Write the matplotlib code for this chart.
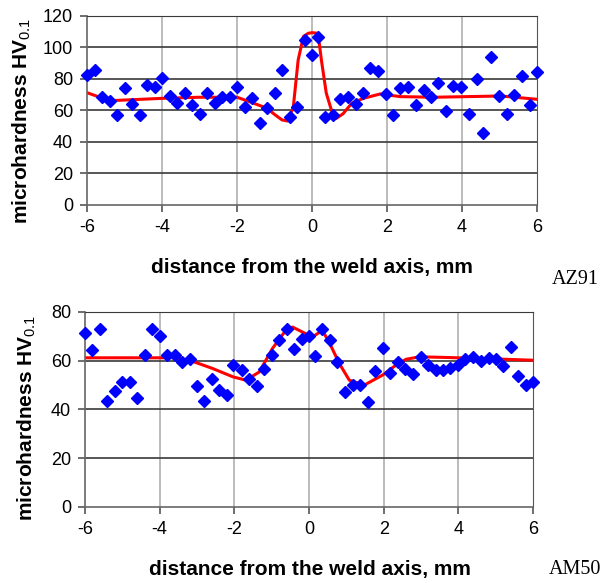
import matplotlib.pyplot as plt
import numpy as np

plt.rcParams['font.family'] = ['Liberation Sans', 'DejaVu Sans']
plt.rcParams['mathtext.fontset'] = 'custom'
plt.rcParams['mathtext.rm'] = 'Liberation Sans'
plt.rcParams['mathtext.default'] = 'rm'
plt.rcParams['axes.unicode_minus'] = False

# AZ91 measurements
az_x = [-6.0, -5.8, -5.6, -5.4, -5.2, -5.0, -4.8, -4.6, -4.4, -4.2, -4.0, -3.8, -3.6, -3.4,
        -3.2, -3.0, -2.8, -2.6, -2.4, -2.2, -2.0, -1.8, -1.6, -1.4, -1.2, -1.0, -0.8, -0.6,
        -0.4, -0.2, 0.0, 0.16, 0.34, 0.55, 0.74, 0.95, 1.16, 1.37, 1.55, 1.77, 1.98, 2.17,
        2.35, 2.56, 2.76, 2.98, 3.18, 3.36, 3.56, 3.77, 3.98, 4.19, 4.39, 4.57, 4.77, 4.99,
        5.19, 5.39, 5.59, 5.80, 6.0]
az_y = [82.5, 85.7, 68.4, 66.0, 57.1, 74.1, 64.1, 57.1, 76.2, 75.1, 80.4, 69.2, 65.0, 70.9,
        63.5, 57.8, 70.9, 65.0, 68.4, 68.4, 74.7, 62.0, 67.7, 51.9, 61.4, 70.9, 85.7, 55.7,
        62.0, 104.8, 95.2, 106.9, 55.7, 57.1, 67.1, 68.4, 64.1, 71.3, 86.8, 85.1, 70.3, 57.1,
        74.1, 75.1, 63.5, 73.0, 68.4, 77.2, 59.9, 75.6, 74.7, 57.8, 79.8, 45.9, 93.8, 69.2,
        57.8, 69.8, 81.9, 63.5, 84.2]
# AZ91 trend line
az_fit_x = [-6, -5.4, -4, -3, -2, -1.6, -1.2, -1.0, -0.8, -0.65, -0.5, -0.37, -0.23, -0.1, 0,
            0.16, 0.25, 0.38, 0.52, 0.65, 0.83, 1.06, 1.37, 1.82, 2.35, 3.25, 5.04, 6]
az_fit_y = [71.3, 66.2, 67.7, 68.4, 68.4, 65, 61.4, 57.5, 54, 53.3, 62, 92, 107, 109, 109.4,
            109, 92, 71, 60, 55, 58, 64.6, 67.7, 70.5, 68.8, 68.4, 69.2, 67.1]

# AM50 measurements
am_x = [-6.0, -5.8, -5.6, -5.4, -5.2, -5.0, -4.8, -4.6, -4.4, -4.2, -4.0, -3.8, -3.6, -3.4,
        -3.2, -3.0, -2.8, -2.6, -2.4, -2.2, -2.03, -1.8, -1.6, -1.4, -1.2, -1.0, -0.8, -0.6,
        -0.4, -0.2, 0.0, 0.16, 0.36, 0.57, 0.76, 0.97, 1.17, 1.37, 1.57, 1.78, 1.98, 2.17,
        2.38, 2.58, 2.78, 2.99, 3.18, 3.39, 3.59, 3.78, 3.99, 4.19, 4.39, 4.60, 4.82, 5.0,
        5.20, 5.40, 5.61, 5.81, 6.0]
am_y = [71.5, 64.6, 72.9, 43.5, 47.5, 51.1, 51.1, 44.6, 62.5, 72.9, 70.0, 62.5, 62.5, 59.5,
        60.6, 49.7, 43.5, 52.5, 48.0, 45.9, 58.4, 56.1, 52.5, 49.7, 56.8, 62.3, 68.7, 72.9,
        65.0, 69.1, 70.0, 62.0, 72.9, 68.7, 59.5, 47.0, 50.0, 50.0, 43.2, 55.9, 65.3, 54.8,
        59.3, 56.5, 54.4, 61.6, 58.2, 56.1, 56.1, 57.1, 58.2, 60.6, 61.6, 59.9, 61.2, 60.5,
        57.9, 65.7, 53.8, 50.0, 51.1]
# AM50 trend line
am_fit_x = [-6, -3.6, -3.2, -2.58, -2.04, -1.69, -1.33, -0.98, -0.62, -0.44, -0.09, 0.1,
            0.36, 0.58, 0.81, 1.08, 1.48, 1.97, 2.33, 2.6, 2.96, 3.77, 4.66, 6]
am_fit_y = [61.2, 61.2, 60.2, 56.8, 53.4, 52.0, 55.4, 65, 72.5, 73.8, 71.1, 69.8, 72.5, 66.3,
            58.9, 52, 50.0, 54.1, 58.2, 60.6, 61.6, 61.3, 60.9, 60.2]

x_ticks = [-6, -4, -2, 0, 2, 4, 6]

fig = plt.figure(figsize=(6.15, 5.83), dpi=100)
ax1 = fig.add_axes([0.1415, 0.6484, 0.7317, 0.3242])
ax2 = fig.add_axes([0.1382, 0.1304, 0.7285, 0.3345])


def style(ax, ymax, ystep):
    ax.set_xlim(-6, 6)
    ax.set_ylim(0, ymax)
    ax.set_xticks(x_ticks)
    ax.set_yticks(np.arange(0, ymax + 1, ystep))
    for v in x_ticks[1:-1]:
        ax.axvline(v, color='#b0b0b0', lw=1.2, zorder=0)
    for v in np.arange(ystep, ymax + 1, ystep):
        ax.axhline(v, color='#3a3a3a', lw=1.2, zorder=0)
    for s in ['left', 'bottom']:
        ax.spines[s].set_color('#666666')
        ax.spines[s].set_linewidth(1.2)
    ax.spines['right'].set_color('#555555')
    ax.spines['top'].set_color('#3a3a3a')
    ax.tick_params(direction='out', length=5, width=1.2, color='#555555',
                   labelsize=13, pad=5)


style(ax1, 120, 20)
ax1.plot(az_fit_x, az_fit_y, color='#ff0000', lw=2.2, zorder=2)
ax1.plot(az_x, az_y, 'D', color='#0000ff', ms=6.5, mec='#0000ff', zorder=3, clip_on=False)

style(ax2, 80, 20)
ax2.plot(am_fit_x, am_fit_y, color='#ff0000', lw=2.2, zorder=2)
ax2.plot(am_x, am_y, 'D', color='#0000ff', ms=6.5, mec='#0000ff', zorder=3, clip_on=False)

lab = dict(fontsize=15, fontweight='bold', ha='center', va='center')
fig.text(312 / 615, 1 - 268 / 583, 'distance from the weld axis, mm', **lab)
fig.text(310 / 615, 1 - 570 / 583, 'distance from the weld axis, mm', **lab)
fig.text(22 / 615, 1 - 121 / 583, 'microhardness HV$_{0.1}$', rotation=90, **lab)
fig.text(27 / 615, 1 - 418 / 583, 'microhardness HV$_{0.1}$', rotation=90, **lab)

fig.text(575 / 615, 1 - 280 / 583, 'AZ91', family='Liberation Serif', fontsize=14.5,
         ha='center', va='center')
fig.text(575 / 615, 1 - 570 / 583, 'AM50', family='Liberation Serif', fontsize=14.5,
         ha='center', va='center')

fig.savefig('out.png', dpi=100)
